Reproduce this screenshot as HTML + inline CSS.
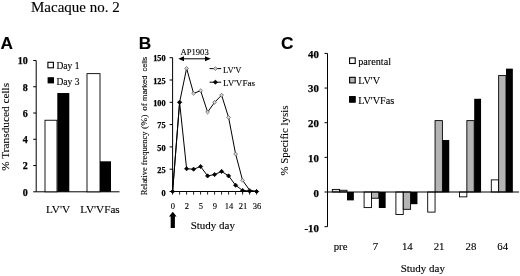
<!DOCTYPE html>
<html><head><meta charset="utf-8"><title>Macaque no. 2</title>
<style>
html,body{margin:0;padding:0;background:#fff}
body{width:520px;height:276px;overflow:hidden}
svg{display:block}
text{font-family:"Liberation Serif",serif;fill:#000;stroke:#000;stroke-width:0.12px}
.b{font-weight:bold;stroke:#000;stroke-width:0.25px}
.s{font-family:"Liberation Sans",sans-serif;font-weight:bold}
</style></head><body>
<svg width="520" height="276" viewBox="0 0 520 276">
<rect width="520" height="276" fill="#fff"/>
<text x="31" y="11.5" font-size="15">Macaque no. 2</text>
<text class="s" x="0.6" y="48.6" font-size="17.3">A</text>
<text class="s" x="138.7" y="48.6" font-size="17.3">B</text>
<text class="s" x="280.9" y="48.6" font-size="17.3">C</text>
<g stroke="#000" stroke-width="1" fill="none">
<path d="M36.2 60.5V191.8H119.5"/>
<path d="M33.2 191.8H36.2"/><path d="M33.2 165.54H36.2"/><path d="M33.2 139.28H36.2"/><path d="M33.2 113.02H36.2"/><path d="M33.2 86.76H36.2"/><path d="M33.2 60.5H36.2"/>
</g>
<text class="b" x="27.7" y="196.3" font-size="10" text-anchor="end">0</text><text class="b" x="27.7" y="169.34" font-size="10" text-anchor="end">2</text><text class="b" x="27.7" y="143.08" font-size="10" text-anchor="end">4</text><text class="b" x="27.7" y="116.82" font-size="10" text-anchor="end">6</text><text class="b" x="27.7" y="90.56" font-size="10" text-anchor="end">8</text><text class="b" x="27.7" y="64.3" font-size="10" text-anchor="end">10</text>
<rect x="45" y="120.24" width="12" height="71.56" fill="#fff" stroke="#000" stroke-width="0.9"/>
<rect x="57.3" y="93.03" width="12" height="98.78" fill="#000"/>
<rect x="87" y="73.63" width="13" height="118.17" fill="#fff" stroke="#000" stroke-width="0.9"/>
<rect x="100" y="161.3" width="11" height="30.5" fill="#000"/>
<text x="46" y="213.2" font-size="11.2">LV'V</text>
<text x="80.2" y="213.2" font-size="11.2">LV'VFas</text>
<rect x="47.9" y="62.3" width="5.5" height="5.5" fill="#fff" stroke="#000" stroke-width="1.1"/>
<text x="56.5" y="69.4" font-size="9.5">Day 1</text>
<rect x="47.6" y="77.2" width="6.4" height="6.2" fill="#000"/>
<text x="56.5" y="84.7" font-size="9.5">Day 3</text>
<text transform="translate(8.9,170.7) rotate(-90)" font-size="11.3">% Transduced cells</text>
<g stroke="#000" stroke-width="1" fill="none">
<path d="M172.6 57.7V191.5H258"/>
<path d="M169.6 191.5H172.6"/><path d="M169.6 169.2H172.6"/><path d="M169.6 146.9H172.6"/><path d="M169.6 124.6H172.6"/><path d="M169.6 102.3H172.6"/><path d="M169.6 80H172.6"/><path d="M169.6 57.7H172.6"/><path d="M172.6 191.5V194.6" stroke="#222"/><path d="M179.6 191.5V194.6" stroke="#222"/><path d="M186.6 191.5V194.6" stroke="#222"/><path d="M193.6 191.5V194.6" stroke="#222"/><path d="M200.6 191.5V194.6" stroke="#222"/><path d="M207.6 191.5V194.6" stroke="#222"/><path d="M214.6 191.5V194.6" stroke="#222"/><path d="M221.6 191.5V194.6" stroke="#222"/><path d="M228.6 191.5V194.6" stroke="#222"/><path d="M235.6 191.5V194.6" stroke="#222"/><path d="M242.6 191.5V194.6" stroke="#222"/><path d="M249.6 191.5V194.6" stroke="#222"/><path d="M256.6 191.5V194.6" stroke="#222"/>
</g>
<text class="b" x="165.6" y="196" font-size="8.3" text-anchor="end">0</text><text class="b" x="165.6" y="172.8" font-size="8.3" text-anchor="end">25</text><text class="b" x="165.6" y="150.5" font-size="8.3" text-anchor="end">50</text><text class="b" x="165.6" y="128.2" font-size="8.3" text-anchor="end">75</text><text class="b" x="165.6" y="105.9" font-size="8.3" text-anchor="end">100</text><text class="b" x="165.6" y="83.6" font-size="8.3" text-anchor="end">125</text><text class="b" x="165.6" y="61.3" font-size="8.3" text-anchor="end">150</text>
<text x="172.8" y="209" font-size="8.5" text-anchor="middle">0</text><text x="186.85" y="209" font-size="8.5" text-anchor="middle">2</text><text x="200.9" y="209" font-size="8.5" text-anchor="middle">5</text><text x="214.95" y="209" font-size="8.5" text-anchor="middle">9</text><text x="229" y="209" font-size="8.5" text-anchor="middle">14</text><text x="243.05" y="209" font-size="8.5" text-anchor="middle">21</text><text x="257.1" y="209" font-size="8.5" text-anchor="middle">36</text>
<polyline points="172.6,191.5 179.6,102.3 186.6,68.4 193.6,93.38 200.6,90.7 207.6,112.11 214.6,102.3 221.6,95.16 228.6,117.46 235.6,154.04 242.6,180.35 249.6,190.16 256.6,191.5" fill="none" stroke="#000" stroke-width="1"/>
<path d="M179.6 100.4L181.5 102.3L179.6 104.2L177.7 102.3Z" fill="#d4d4d4" stroke="#555" stroke-width="0.7"/><path d="M186.6 66.5L188.5 68.4L186.6 70.3L184.7 68.4Z" fill="#d4d4d4" stroke="#555" stroke-width="0.7"/><path d="M193.6 91.48L195.5 93.38L193.6 95.28L191.7 93.38Z" fill="#d4d4d4" stroke="#555" stroke-width="0.7"/><path d="M200.6 88.8L202.5 90.7L200.6 92.6L198.7 90.7Z" fill="#d4d4d4" stroke="#555" stroke-width="0.7"/><path d="M207.6 110.21L209.5 112.11L207.6 114.01L205.7 112.11Z" fill="#d4d4d4" stroke="#555" stroke-width="0.7"/><path d="M214.6 100.4L216.5 102.3L214.6 104.2L212.7 102.3Z" fill="#d4d4d4" stroke="#555" stroke-width="0.7"/><path d="M221.6 93.26L223.5 95.16L221.6 97.06L219.7 95.16Z" fill="#d4d4d4" stroke="#555" stroke-width="0.7"/><path d="M228.6 115.56L230.5 117.46L228.6 119.36L226.7 117.46Z" fill="#d4d4d4" stroke="#555" stroke-width="0.7"/><path d="M235.6 152.14L237.5 154.04L235.6 155.94L233.7 154.04Z" fill="#d4d4d4" stroke="#555" stroke-width="0.7"/><path d="M242.6 178.45L244.5 180.35L242.6 182.25L240.7 180.35Z" fill="#d4d4d4" stroke="#555" stroke-width="0.7"/><path d="M249.6 188.26L251.5 190.16L249.6 192.06L247.7 190.16Z" fill="#d4d4d4" stroke="#555" stroke-width="0.7"/><path d="M256.6 189.6L258.5 191.5L256.6 193.4L254.7 191.5Z" fill="#d4d4d4" stroke="#555" stroke-width="0.7"/>
<polyline points="172.6,191.5 179.6,102.3 186.6,168.75 193.6,169.2 200.6,166.52 207.6,175.89 214.6,174.55 221.6,171.43 228.6,175.89 235.6,185.26 242.6,190.43 249.6,191.05 256.6,191.5" fill="none" stroke="#000" stroke-width="1"/>
<path d="M172.6 189.4L174.7 191.5L172.6 193.6L170.5 191.5Z" fill="#000" stroke="#000" stroke-width="0.7"/><path d="M179.6 100.2L181.7 102.3L179.6 104.4L177.5 102.3Z" fill="#000" stroke="#000" stroke-width="0.7"/><path d="M186.6 166.65L188.7 168.75L186.6 170.85L184.5 168.75Z" fill="#000" stroke="#000" stroke-width="0.7"/><path d="M193.6 167.1L195.7 169.2L193.6 171.3L191.5 169.2Z" fill="#000" stroke="#000" stroke-width="0.7"/><path d="M200.6 164.42L202.7 166.52L200.6 168.62L198.5 166.52Z" fill="#000" stroke="#000" stroke-width="0.7"/><path d="M207.6 173.79L209.7 175.89L207.6 177.99L205.5 175.89Z" fill="#000" stroke="#000" stroke-width="0.7"/><path d="M214.6 172.45L216.7 174.55L214.6 176.65L212.5 174.55Z" fill="#000" stroke="#000" stroke-width="0.7"/><path d="M221.6 169.33L223.7 171.43L221.6 173.53L219.5 171.43Z" fill="#000" stroke="#000" stroke-width="0.7"/><path d="M228.6 173.79L230.7 175.89L228.6 177.99L226.5 175.89Z" fill="#000" stroke="#000" stroke-width="0.7"/><path d="M235.6 183.16L237.7 185.26L235.6 187.36L233.5 185.26Z" fill="#000" stroke="#000" stroke-width="0.7"/><path d="M242.6 188.33L244.7 190.43L242.6 192.53L240.5 190.43Z" fill="#000" stroke="#000" stroke-width="0.7"/><path d="M249.6 188.95L251.7 191.05L249.6 193.15L247.5 191.05Z" fill="#000" stroke="#000" stroke-width="0.7"/><path d="M256.6 189.4L258.7 191.5L256.6 193.6L254.5 191.5Z" fill="#000" stroke="#000" stroke-width="0.7"/>
<text x="180.5" y="54.8" font-size="8.6">AP1903</text>
<path d="M183 58.8H206" stroke="#000" stroke-width="1"/>
<path d="M178.3 58.8L184 56.3V61.3Z M210.8 58.8L205 56.3V61.3Z" fill="#000"/>
<path d="M209.6 68.6H221.2M209.6 82.2H221.2" stroke="#000" stroke-width="1"/>
<path d="M215.4 66.7L217.3 68.6L215.4 70.5L213.5 68.6Z" fill="#d4d4d4" stroke="#555" stroke-width="0.7"/><path d="M215.4 80.1L217.5 82.2L215.4 84.3L213.3 82.2Z" fill="#000" stroke="#000" stroke-width="0.7"/>
<text x="223" y="72.6" font-size="8.6">LV'V</text>
<text x="223" y="86.4" font-size="8.6" textLength="32" lengthAdjust="spacingAndGlyphs">LV'VFas</text>
<path d="M172.8 211.7L176.6 216.5H174.9V228H170.7V216.5H169Z" fill="#000"/>
<text x="190.7" y="228.7" font-size="11">Study day</text>
<g transform="translate(146.6,195.3) rotate(-90)" font-size="8.77"><text x="0" y="0" textLength="63.8" lengthAdjust="spacingAndGlyphs">Relative frequency</text><text x="66.3" y="0" textLength="14.5" lengthAdjust="spacingAndGlyphs">(%)</text><text x="84.6" y="0" textLength="7.6" lengthAdjust="spacingAndGlyphs">of</text><text x="94.4" y="0" font-size="7.9" textLength="25.4" lengthAdjust="spacingAndGlyphs" stroke-width="0.3" style="font-family:'Liberation Sans',sans-serif">marked</text><text x="123.9" y="0" font-size="7.9" textLength="14.6" lengthAdjust="spacingAndGlyphs" stroke-width="0.3" style="font-family:'Liberation Sans',sans-serif">cells</text></g>
<g stroke="#000" stroke-width="1" fill="none">
<path d="M327.5 53.4V226.65"/>
<path d="M324.5 226.65H327.5"/><path d="M324.5 192H327.5"/><path d="M324.5 157.35H327.5"/><path d="M324.5 122.7H327.5"/><path d="M324.5 88.05H327.5"/><path d="M324.5 53.4H327.5"/>
</g>
<text class="b" x="318.8" y="231.85" font-size="10.8" text-anchor="end">-10</text><text class="b" x="318.8" y="196.9" font-size="10.8" text-anchor="end">0</text><text class="b" x="318.8" y="161.65" font-size="10.8" text-anchor="end">10</text><text class="b" x="318.8" y="127" font-size="10.8" text-anchor="end">20</text><text class="b" x="318.8" y="92.35" font-size="10.8" text-anchor="end">30</text><text class="b" x="318.8" y="57.7" font-size="10.8" text-anchor="end">40</text>
<rect x="332.3" y="189.4" width="7.35" height="2.6" fill="#ddd" stroke="#000" stroke-width="0.9"/><rect x="339.65" y="190.27" width="7.35" height="1.73" fill="#b4b4b4" stroke="#000" stroke-width="0.9"/><rect x="347" y="192" width="6.85" height="8.37" fill="#000"/>
<text x="340.62" y="249.7" font-size="10.8" text-anchor="middle">pre</text>
<rect x="364.1" y="192" width="7.35" height="15.59" fill="#fff" stroke="#000" stroke-width="0.9"/><rect x="371.45" y="192" width="7.35" height="6.24" fill="#b4b4b4" stroke="#000" stroke-width="0.9"/><rect x="378.8" y="192" width="6.85" height="15.99" fill="#000"/>
<text x="375.52" y="249.7" font-size="10.8" text-anchor="middle">7</text>
<rect x="395.9" y="192" width="7.35" height="22.52" fill="#fff" stroke="#000" stroke-width="0.9"/><rect x="403.25" y="192" width="7.35" height="17.32" fill="#b4b4b4" stroke="#000" stroke-width="0.9"/><rect x="410.6" y="192" width="6.85" height="12.18" fill="#000"/>
<text x="407.32" y="249.7" font-size="10.8" text-anchor="middle">14</text>
<rect x="427.7" y="192" width="7.35" height="20.1" fill="#fff" stroke="#000" stroke-width="0.9"/><rect x="435.05" y="120.62" width="7.35" height="71.38" fill="#b4b4b4" stroke="#000" stroke-width="0.9"/><rect x="442.4" y="140.03" width="6.85" height="52.37" fill="#000"/>
<text x="439.12" y="249.7" font-size="10.8" text-anchor="middle">21</text>
<rect x="459.5" y="192" width="7.35" height="4.85" fill="#fff" stroke="#000" stroke-width="0.9"/><rect x="466.85" y="120.62" width="7.35" height="71.38" fill="#b4b4b4" stroke="#000" stroke-width="0.9"/><rect x="474.2" y="98.79" width="6.85" height="93.61" fill="#000"/>
<text x="470.92" y="249.7" font-size="10.8" text-anchor="middle">28</text>
<rect x="491.3" y="179.87" width="7.35" height="12.13" fill="#fff" stroke="#000" stroke-width="0.9"/><rect x="498.65" y="75.58" width="7.35" height="116.42" fill="#b4b4b4" stroke="#000" stroke-width="0.9"/><rect x="506" y="68.65" width="6.85" height="123.75" fill="#000"/>
<text x="502.72" y="249.7" font-size="10.8" text-anchor="middle">64</text>
<path d="M327.5 192H519" stroke="#000" stroke-width="1" fill="none"/>
<rect x="349.6" y="57.9" width="5.6" height="5.6" fill="#fff" stroke="#000" stroke-width="1.1"/><text x="358.2" y="64.8" font-size="10.2">parental</text>
<rect x="349.6" y="77.3" width="5.6" height="5.6" fill="#b4b4b4" stroke="#000" stroke-width="1.1"/><text x="358.2" y="84.3" font-size="10.2">LV'V</text>
<rect x="349.6" y="96.6" width="5.6" height="5.6" fill="#000" stroke="#000" stroke-width="1.1"/><text x="358.2" y="103.5" font-size="10.2">LV'VFas</text>
<text x="400.7" y="272.4" font-size="11">Study day</text>
<text transform="translate(288.3,175.6) rotate(-90)" font-size="10.9">% Specific lysis</text>
</svg>
</body></html>
